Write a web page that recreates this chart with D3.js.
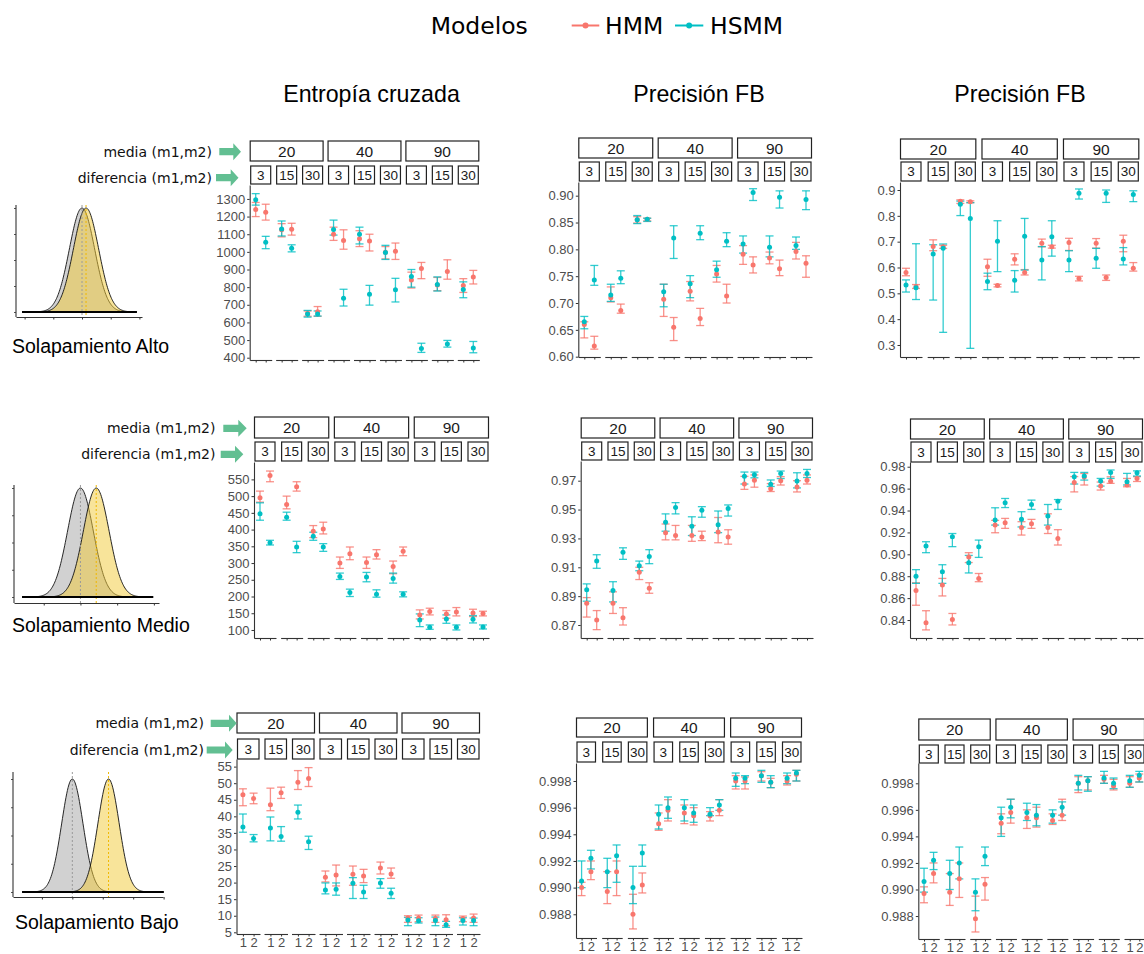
<!DOCTYPE html>
<html>
<head>
<meta charset="utf-8">
<script src="https://cdn.jsdelivr.net/npm/d3@7"></script>
<style>
  body { margin: 0; background: #fff; }
  svg { display: block; }
</style>
</head>
<body>
<script>
// ---- categories ----
const models = ["HMM", "HSMM"];
const medias = ["20", "40", "90"];
const diferencias = ["3", "15", "30"];
const xLevels = ["1", "2"];
const colTitles = ["Entropía cruzada", "Precisión FB", "Precisión FB"];
const rowTitles = ["Solapamiento Alto", "Solapamiento Medio", "Solapamiento Bajo"];

// ---- series: [mean, low, high] per facet (media x diferencia) and x = 1, 2 ----
const entAltoHMM = [[1240,1200,1280],[1225,1180,1270],[1125,1085,1160],[1128,1095,1162],[650,635,665],[660,635,690],
  [1100,1065,1140],[1065,1015,1125],[1075,1030,1120],[1062,1005,1100],[998,960,1030],[1004,957,1050],
  [840,795,885],[905,848,940],[812,780,855],[888,845,955],[810,770,848],[858,818,895]];
const entAltoHSMM = [[1295,1265,1330],[1055,1018,1088],[1130,1090,1175],[1020,1000,1040],[648,630,668],[648,636,665],
  [1127,1095,1180],[737,693,788],[1100,1045,1140],[760,698,810],[997,957,1037],[785,716,850],
  [860,800,900],[452,430,482],[815,778,858],[478,460,498],[787,740,830],[455,428,492]];

const fbAltoHMM = [[0.660,0.635,0.665],[0.620,0.614,0.638],[0.710,0.702,0.730],[0.686,0.681,0.698],[0.855,0.849,0.861],[0.856,0.853,0.858],
  [0.707,0.675,0.735],[0.655,0.630,0.673],[0.722,0.704,0.740],[0.671,0.658,0.690],[0.754,0.739,0.770],[0.713,0.700,0.735],
  [0.791,0.772,0.807],[0.771,0.756,0.786],[0.784,0.773,0.795],[0.764,0.751,0.780],[0.796,0.782,0.813],[0.774,0.748,0.788]];
const fbAltoHSMM = [[0.665,0.652,0.675],[0.743,0.733,0.770],[0.715,0.703,0.735],[0.746,0.736,0.760],[0.855,0.848,0.863],[0.856,0.852,0.858],
  [0.721,0.693,0.735],[0.821,0.783,0.844],[0.736,0.710,0.751],[0.830,0.818,0.844],[0.762,0.748,0.778],[0.815,0.805,0.831],
  [0.810,0.793,0.825],[0.906,0.891,0.913],[0.804,0.786,0.825],[0.897,0.877,0.909],[0.807,0.800,0.823],[0.893,0.874,0.909]];

const fb2AltoHMM = [[0.581,0.568,0.597],[0.526,0.519,0.534],[0.681,0.665,0.707],[0.680,0.674,0.686],[0.856,0.848,0.862],[0.855,0.851,0.858],
  [0.603,0.566,0.632],[0.530,0.525,0.535],[0.632,0.610,0.653],[0.581,0.571,0.592],[0.694,0.680,0.710],[0.680,0.675,0.686],
  [0.697,0.666,0.713],[0.557,0.548,0.566],[0.694,0.675,0.712],[0.561,0.550,0.571],[0.702,0.661,0.725],[0.597,0.586,0.619]];
const fb2AltoHSMM = [[0.532,0.505,0.552],[0.522,0.476,0.692],[0.652,0.474,0.688],[0.675,0.349,0.691],[0.845,0.801,0.857],[0.790,0.287,0.851],
  [0.546,0.514,0.578],[0.702,0.584,0.781],[0.551,0.505,0.588],[0.721,0.590,0.790],[0.629,0.552,0.681],[0.719,0.644,0.781],
  [0.629,0.584,0.665],[0.887,0.865,0.904],[0.636,0.597,0.674],[0.887,0.852,0.900],[0.633,0.610,0.677],[0.883,0.855,0.897]];

const entMedioHMM = [[495,482,515],[562,543,575],[475,462,500],[528,515,543],[395,376,412],[402,387,422],
  [300,284,318],[328,310,348],[302,284,318],[325,312,340],[290,268,306],[335,322,348],
  [145,133,160],[155,145,165],[148,135,158],[154,142,167],[151,140,162],[149,142,156]];
const entMedioHSMM = [[447,428,480],[361,354,368],[437,428,452],[348,331,365],[380,368,392],[348,335,358],
  [260,251,270],[212,200,222],[258,244,272],[207,198,220],[254,240,270],[207,199,214],
  [130,110,148],[108,102,115],[133,120,145],[108,100,115],[132,121,143],[109,103,115]];

const fbMedioHMM = [[0.8850,0.8755,0.8890],[0.8735,0.8668,0.8800],[0.8850,0.8780,0.8930],[0.8750,0.8700,0.8820],[0.9065,0.9015,0.9100],[0.8955,0.8920,0.8993],
  [0.9340,0.9290,0.9400],[0.9320,0.9290,0.9390],[0.9320,0.9280,0.9390],[0.9310,0.9285,0.9350],[0.9345,0.9270,0.9445],[0.9310,0.9260,0.9360],
  [0.9677,0.9640,0.9730],[0.9703,0.9655,0.9740],[0.9645,0.9625,0.9680],[0.9700,0.9670,0.9728],[0.9657,0.9622,0.9700],[0.9703,0.9677,0.9740]];
const fbMedioHSMM = [[0.8945,0.8865,0.8985],[0.9143,0.9093,0.9187],[0.8940,0.8860,0.9000],[0.9205,0.9155,0.9235],[0.9110,0.9076,0.9143],[0.9175,0.9125,0.9222],
  [0.9412,0.9350,0.9470],[0.9515,0.9470,0.9548],[0.9385,0.9320,0.9450],[0.9495,0.9447,0.9520],[0.9395,0.9340,0.9490],[0.9507,0.9455,0.9532],
  [0.9730,0.9677,0.9760],[0.9742,0.9720,0.9760],[0.9675,0.9660,0.9705],[0.9750,0.9715,0.9767],[0.9698,0.9650,0.9755],[0.9750,0.9722,0.9778]];

const fb2MedioHMM = [[0.8670,0.8535,0.8740],[0.8375,0.8310,0.8485],[0.8720,0.8620,0.8780],[0.8405,0.8355,0.8460],[0.8975,0.8925,0.9015],[0.8780,0.8750,0.8825],
  [0.9267,0.9197,0.9310],[0.9288,0.9237,0.9328],[0.9245,0.9176,0.9298],[0.9280,0.9237,0.9319],[0.9245,0.9190,0.9370],[0.9145,0.9085,0.9225],
  [0.9655,0.9570,0.9710],[0.9705,0.9633,0.9738],[0.9623,0.9587,0.9660],[0.9668,0.9648,0.9708],[0.9633,0.9617,0.9693],[0.9692,0.9665,0.9709]];
const fb2MedioHSMM = [[0.8800,0.8735,0.8860],[0.9075,0.9015,0.9115],[0.8840,0.8735,0.8905],[0.9160,0.9070,0.9190],[0.8922,0.8830,0.8990],[0.9070,0.8972,0.9130],
  [0.9313,0.9267,0.9425],[0.9470,0.9427,0.9510],[0.9320,0.9250,0.9389],[0.9455,0.9410,0.9495],[0.9350,0.9267,0.9455],[0.9485,0.9410,0.9500],
  [0.9708,0.9642,0.9748],[0.9715,0.9678,0.9748],[0.9670,0.9623,0.9693],[0.9748,0.9693,0.9770],[0.9662,0.9633,0.9739],[0.9745,0.9715,0.9762]];

const entBajoHMM = [[46.5,43.2,48.3],[45.4,43.8,47.0],[43.5,41.7,48.5],[47.1,45.4,48.8],[50.3,48.1,53.8],[51.4,49.0,54.7],
  [21.6,20.2,23.5],[22.3,19.0,25.3],[22.5,19.2,25.0],[22.0,20.0,24.0],[24.4,22.6,26.2],[22.6,21.3,24.4],
  [9.3,8.0,10.0],[9.3,8.2,10.2],[9.2,8.0,10.2],[8.8,7.0,10.3],[9.2,8.2,9.9],[9.3,8.0,10.5]];
const entBajoHSMM = [[36.8,35.2,40.7],[33.3,32.3,34.5],[36.5,32.6,39.8],[33.9,32.5,36.9],[41.2,39.2,43.4],[32.3,30.0,34.0],
  [17.8,16.6,19.9],[18.0,16.2,19.9],[19.8,15.2,21.5],[17.2,15.2,19.2],[19.9,18.3,21.2],[16.8,15.2,18.3],
  [8.7,7.0,9.5],[8.5,7.8,9.4],[8.6,7.0,9.6],[7.3,6.5,8.3],[8.6,7.2,9.4],[8.6,7.0,9.3]];

const fbBajoHMM = [[0.9900,0.9894,0.9904],[0.9912,0.9906,0.9920],[0.9897,0.9888,0.9912],[0.9912,0.9894,0.9920],[0.9880,0.9869,0.9895],[0.9902,0.9896,0.9911],
  [0.9948,0.9943,0.9956],[0.9958,0.9950,0.9966],[0.9956,0.9948,0.9962],[0.9954,0.9947,0.9960],[0.9954,0.9950,0.9957],[0.9958,0.9954,0.9966],
  [0.9980,0.9974,0.9984],[0.9980,0.9974,0.9983],[0.9984,0.9980,0.9987],[0.9979,0.9975,0.9982],[0.9980,0.9977,0.9984],[0.9985,0.9980,0.9988]];
const fbBajoHSMM = [[0.9905,0.9900,0.9920],[0.9922,0.9914,0.9928],[0.9912,0.9900,0.9922],[0.9924,0.9904,0.9932],[0.9900,0.9888,0.9916],[0.9926,0.9916,0.9932],
  [0.9955,0.9944,0.9962],[0.9960,0.9952,0.9968],[0.9960,0.9950,0.9966],[0.9956,0.9949,0.9962],[0.9955,0.9954,0.9960],[0.9962,0.9958,0.9966],
  [0.9982,0.9976,0.9986],[0.9982,0.9978,0.9984],[0.9984,0.9979,0.9988],[0.9979,0.9975,0.9984],[0.9982,0.9978,0.9986],[0.9986,0.9980,0.9988]];

const fb2BajoHMM = [[0.9897,0.9890,0.9902],[0.9912,0.9905,0.9920],[0.9898,0.9888,0.9912],[0.9908,0.9894,0.9920],[0.9878,0.9868,0.9895],[0.9904,0.9892,0.9909],
  [0.9950,0.9942,0.9957],[0.9958,0.9950,0.9968],[0.9954,0.9946,0.9960],[0.9954,0.9947,0.9962],[0.9952,0.9949,0.9957],[0.9956,0.9952,0.9968],
  [0.9980,0.9973,0.9985],[0.9982,0.9975,0.9985],[0.9983,0.9980,0.9986],[0.9978,0.9975,0.9983],[0.9980,0.9977,0.9985],[0.9984,0.9981,0.9987]];
const fb2BajoHSMM = [[0.9906,0.9898,0.9916],[0.9922,0.9915,0.9928],[0.9912,0.9900,0.9922],[0.9920,0.9908,0.9932],[0.9898,0.9884,0.9908],[0.9925,0.9918,0.9932],
  [0.9954,0.9940,0.9962],[0.9962,0.9954,0.9968],[0.9958,0.9952,0.9965],[0.9956,0.9948,0.9964],[0.9956,0.9950,0.9960],[0.9962,0.9956,0.9966],
  [0.9980,0.9975,0.9986],[0.9982,0.9974,0.9985],[0.9984,0.9980,0.9989],[0.9980,0.9976,0.9984],[0.9982,0.9977,0.9986],[0.9986,0.9981,0.9989]];

// ---- tick labels ----
const ticksEntAlto = [400, 500, 600, 700, 800, 900, 1000, 1100, 1200, 1300];
const ticksEntMedio = [100, 150, 200, 250, 300, 350, 400, 450, 500, 550];
const ticksEntBajo = [5, 10, 15, 20, 25, 30, 35, 40, 45, 50, 55];
const ticksFbAlto = [0.60, 0.65, 0.70, 0.75, 0.80, 0.85, 0.90];
const ticksFbMedio = [0.87, 0.89, 0.91, 0.93, 0.95, 0.97];
const ticksFb2Alto = [0.3, 0.4, 0.5, 0.6, 0.7, 0.8, 0.9];
const ticksFb2Medio = [0.84, 0.86, 0.88, 0.90, 0.92, 0.94, 0.96, 0.98];
const ticksFbBajo = [0.988, 0.990, 0.992, 0.994, 0.996, 0.998];

// ---- overlap sketches (normal curves): means of m1, m2, sd, axis ticks ----
const densMeans = [[0, 0.14], [0, 0.43], [0, 1.19]];
const densSd = [0.44, 0.35, 0.35];
const densSpan = [[-2.09, 1.91], [-1.59, 1.98], [-1.65, 3.0]];
const densTicks = [[-2, -1, 0, 1, 2], [-1, 0, 1, 2], [-1, 0, 1, 2, 3]];

// ---- layout ----
const W = 1144, H = 954;
const panels = [
  {row: 0, col: 0, L: 249.7, R: 479.3, fw: 22, mY: [141, 161], dY: [166, 184], top: 185, bottom: 360, domain: [387, 1379], data: [entAltoHMM, entAltoHSMM], ticks: ticksEntAlto, fmt: "d"},
  {row: 0, col: 1, L: 578.3, R: 812, fw: 22, mY: [138, 158], dY: [162, 181], top: 182, bottom: 357, domain: [0.5994, 0.9255], data: [fbAltoHMM, fbAltoHSMM], ticks: ticksFbAlto, fmt: ".2f"},
  {row: 0, col: 2, L: 900, R: 1139.3, fw: 22, mY: [139, 159], dY: [162, 181], top: 182, bottom: 357, domain: [0.2535, 0.931], data: [fb2AltoHMM, fb2AltoHSMM], ticks: ticksFb2Alto, fmt: ".1f"},
  {row: 1, col: 0, L: 254, R: 489, fw: 22, mY: [417, 438], dY: [442, 461], top: 462, bottom: 638, domain: [76, 602], data: [entMedioHMM, entMedioHSMM], ticks: ticksEntMedio, fmt: "d"},
  {row: 1, col: 1, L: 580.7, R: 813, fw: 22, mY: [418, 438], dY: [442, 460], top: 461, bottom: 638, domain: [0.861, 0.98365], data: [fbMedioHMM, fbMedioHSMM], ticks: ticksFbMedio, fmt: ".2f"},
  {row: 1, col: 2, L: 910, R: 1143, fw: 22, mY: [419, 439], dY: [442, 462], top: 462, bottom: 638, domain: [0.8236, 0.9843], data: [fb2MedioHMM, fb2MedioHSMM], ticks: ticksFb2Medio, fmt: ".2f"},
  {row: 2, col: 0, L: 236.5, R: 480, fw: 23.5, mY: [713, 733], dY: [739, 759], top: 759, bottom: 934, domain: [4.49, 57.3], data: [entBajoHMM, entBajoHSMM], ticks: ticksEntBajo, fmt: "d"},
  {row: 2, col: 1, L: 576, R: 802, fw: 20.5, mY: [718, 737], dY: [742, 762], top: 763, bottom: 938, domain: [0.98622, 0.99935], data: [fbBajoHMM, fbBajoHSMM], ticks: ticksFbBajo, fmt: ".3f"},
  {row: 2, col: 2, L: 918.3, R: 1145, fw: 21, mY: [719, 740], dY: [745, 763], top: 763, bottom: 939, domain: [0.98627, 0.99953], data: [fb2BajoHMM, fb2BajoHSMM], ticks: ticksFbBajo, fmt: ".3f"}
];
const titleX = [371.5, 699, 1020];
const densLayout = [
  {L: 16, R: 142, T: 205, B: 317, base: 312, peak: 208, domain: [-2.3, 2.09], titleX: 12, titleY: 352.5},
  {L: 14, R: 159, T: 485, B: 603, base: 597, peak: 488, domain: [-1.81, 2.14], titleX: 12, titleY: 631.5},
  {L: 13, R: 163, T: 772, B: 897, base: 892, peak: 779, domain: [-1.95, 2.98], titleX: 15, titleY: 929}
];
const arrowLayout = [
  {textX: 212, media: [219.3, 233.3, 241, 151.7], dif: [216, 230.7, 238.5, 177.7]},
  {textX: 215.5, media: [223.3, 238.3, 246.7, 428.3], dif: [220.7, 235, 243.3, 454.3]},
  {textX: 204, media: [210.7, 229, 236.7, 723.3], dif: [206.7, 225, 232.7, 750]}
];

const SANS = "'Liberation Sans', Arial, sans-serif";
const DEJAVU = "'DejaVu Sans', sans-serif";
const color = d3.scaleOrdinal().domain(models).range(["#F8766D", "#00BFC4"]);

const svg = d3.select("body").append("svg")
  .attr("width", W)
  .attr("height", H)
  .style("font-family", SANS);

// ---- legend ----
const legend = svg.append("g");
legend.append("text")
  .attr("x", 430.7).attr("y", 34)
  .style("font-family", DEJAVU).style("font-size", "23.5px")
  .text("Modelos");
const legendPos = [{x0: 571.7, x1: 599.3, tx: 605}, {x0: 675, x1: 703.3, tx: 710}];
models.forEach((m, i) => {
  const p = legendPos[i];
  legend.append("line")
    .attr("x1", p.x0).attr("x2", p.x1).attr("y1", 25.5).attr("y2", 25.5)
    .attr("stroke", color(m)).attr("stroke-width", 2);
  legend.append("circle")
    .attr("cx", (p.x0 + p.x1) / 2).attr("cy", 25.5).attr("r", 3)
    .attr("fill", color(m));
  legend.append("text")
    .attr("x", p.tx).attr("y", 34)
    .style("font-family", DEJAVU).style("font-size", "23.5px")
    .text(m);
});

// ---- column titles ----
svg.selectAll(".coltitle")
  .data(colTitles)
  .enter()
  .append("text")
    .attr("class", "coltitle")
    .attr("x", (d, i) => titleX[i])
    .attr("y", 102)
    .attr("text-anchor", "middle")
    .style("font-size", "23.2px")
    .text(d => d);

// ---- facet panels ----
const facetIds = d3.cross(medias, diferencias).map(d => d.join("/"));

function drawPanel(p) {
  const g = svg.append("g");
  const pitch = (p.R - p.L - p.fw) / 8;
  const fx = d3.scaleBand()
    .domain(facetIds)
    .range([p.L, p.R])
    .paddingInner(1 - p.fw / pitch)
    .paddingOuter(0);
  const y = d3.scaleLinear().domain(p.domain).range([p.bottom, p.top]);

  // strips: media
  medias.forEach((m, gi) => {
    const x0 = fx(facetIds[gi * 3]) + 0.5;
    const x1 = fx(facetIds[gi * 3 + 2]) + p.fw - 0.5;
    g.append("rect")
      .attr("x", x0).attr("y", p.mY[0])
      .attr("width", x1 - x0).attr("height", p.mY[1] - p.mY[0])
      .attr("fill", "#fff").attr("stroke", "#222").attr("stroke-width", 1.2);
    g.append("text")
      .attr("x", (x0 + x1) / 2).attr("y", (p.mY[0] + p.mY[1]) / 2 + 5.5)
      .attr("text-anchor", "middle")
      .style("font-size", "15.5px").attr("fill", "#1a1a1a")
      .text(m);
  });

  // strips: diferencia + axes + marks per facet
  facetIds.forEach((fid, fi) => {
    const left = fx(fid);
    const dif = diferencias[fi % 3];
    g.append("rect")
      .attr("x", left + 1).attr("y", p.dY[0])
      .attr("width", p.fw - 2).attr("height", p.dY[1] - p.dY[0])
      .attr("fill", "#fff").attr("stroke", "#222").attr("stroke-width", 1.2);
    g.append("text")
      .attr("x", left + p.fw / 2).attr("y", (p.dY[0] + p.dY[1]) / 2 + 4.8)
      .attr("text-anchor", "middle")
      .style("font-size", "13.5px").attr("fill", "#1a1a1a")
      .text(dif);

    const xs = d3.scalePoint().domain(xLevels).range([left, left + p.fw]).padding(0.6);

    const xAxis = d3.axisBottom(xs).tickSize(2.5).tickSizeOuter(0);
    if (p.row < 2) xAxis.tickFormat("");
    const ax = g.append("g")
      .attr("transform", `translate(0,${p.bottom})`)
      .call(xAxis);
    ax.select(".domain").attr("stroke", "#333").attr("stroke-width", 1.1);
    ax.selectAll(".tick line").attr("stroke", "#333");
    ax.selectAll(".tick text")
      .attr("fill", "#4d4d4d").attr("dy", "0.6em")
      .style("font-family", SANS).style("font-size", "13px");

    const recs = [];
    models.forEach((m, mi) => {
      xLevels.forEach((lev, li) => {
        const v = p.data[mi][fi * 2 + li];
        recs.push({model: m, x: xs(lev), mean: v[0], lo: v[1], hi: v[2]});
      });
    });

    const bars = g.append("g")
      .selectAll("g")
      .data(recs)
      .enter()
      .append("g")
        .attr("stroke", d => color(d.model))
        .attr("stroke-width", 1.3)
        .attr("stroke-opacity", 0.8);
    bars.append("line")
      .attr("x1", d => d.x).attr("x2", d => d.x)
      .attr("y1", d => y(d.lo)).attr("y2", d => y(d.hi));
    bars.append("line")
      .attr("x1", d => d.x - 4).attr("x2", d => d.x + 4)
      .attr("y1", d => y(d.lo)).attr("y2", d => y(d.lo));
    bars.append("line")
      .attr("x1", d => d.x - 4).attr("x2", d => d.x + 4)
      .attr("y1", d => y(d.hi)).attr("y2", d => y(d.hi));

    g.append("g")
      .selectAll("circle")
      .data(recs)
      .enter()
      .append("circle")
        .attr("cx", d => d.x)
        .attr("cy", d => y(d.mean))
        .attr("r", 2.5)
        .attr("fill", d => color(d.model));
  });

  // y axis
  const yAxis = d3.axisLeft(y)
    .tickValues(p.ticks)
    .tickFormat(d3.format(p.fmt))
    .tickSize(2.5)
    .tickSizeOuter(0);
  const ay = g.append("g")
    .attr("transform", `translate(${p.L},0)`)
    .call(yAxis);
  ay.select(".domain").attr("stroke", "#333").attr("stroke-width", 1.1);
  ay.selectAll(".tick line").attr("stroke", "#333");
  ay.selectAll(".tick text")
    .attr("fill", "#4d4d4d").attr("x", -4.5)
    .style("font-family", SANS).style("font-size", "13px");
}

panels.forEach(drawPanel);

// ---- overlap sketches ----
function drawDensity(r) {
  const lay = densLayout[r];
  const g = svg.append("g");
  const x = d3.scaleLinear().domain(lay.domain).range([lay.L, lay.R]);
  const y = d3.scaleLinear().domain([0, 1]).range([lay.base, lay.peak]);
  const sd = densSd[r];
  const span = densSpan[r];
  const xsamp = d3.range(span[0], span[1] + 1e-9, (span[1] - span[0]) / 200);
  const fills = [{fill: "#b3b3b3", op: 0.6, dash: "#9a9a9a"}, {fill: "#f1c935", op: 0.5, dash: "#f0b800"}];

  densMeans[r].forEach((mu, k) => {
    const pts = xsamp.map(v => [v, Math.exp(-0.5 * Math.pow((v - mu) / sd, 2))]);
    g.append("path")
      .datum(pts)
      .attr("d", d3.area().x(d => x(d[0])).y0(y(0)).y1(d => y(d[1])))
      .attr("fill", fills[k].fill)
      .attr("fill-opacity", fills[k].op)
      .attr("stroke", "#111")
      .attr("stroke-width", 0.9);
  });
  densMeans[r].forEach((mu, k) => {
    g.append("line")
      .attr("x1", x(mu)).attr("x2", x(mu))
      .attr("y1", lay.T).attr("y2", lay.B)
      .attr("stroke", fills[k].dash)
      .attr("stroke-width", 1)
      .attr("stroke-dasharray", "2,2");
  });
  g.append("line")
    .attr("x1", x(span[0])).attr("x2", x(span[1]))
    .attr("y1", y(0)).attr("y2", y(0))
    .attr("stroke", "#000").attr("stroke-width", 2.2);

  const ax = g.append("g")
    .attr("transform", `translate(0,${lay.B})`)
    .call(d3.axisBottom(x).tickValues(densTicks[r]).tickFormat("").tickSize(2.5).tickSizeOuter(0));
  ax.select(".domain").attr("stroke", "#333").attr("stroke-width", 1.1);
  ax.selectAll(".tick line").attr("stroke", "#333");
  const yAx = d3.scaleLinear().domain([0, 1]).range([lay.base, lay.peak]);
  const ay = g.append("g")
    .attr("transform", `translate(${lay.L},0)`)
    .call(d3.axisLeft(yAx).tickValues([0, 0.25, 0.5, 0.75, 1]).tickFormat("").tickSize(2).tickSizeOuter(0));
  ay.select(".domain").attr("stroke", null);
  ay.selectAll(".tick line").attr("stroke", "#555");
  g.append("line")
    .attr("x1", lay.L).attr("x2", lay.L)
    .attr("y1", lay.T).attr("y2", lay.B)
    .attr("stroke", "#333").attr("stroke-width", 1.1);

  g.append("text")
    .attr("x", lay.titleX).attr("y", lay.titleY)
    .style("font-size", "19.5px")
    .text(rowTitles[r]);
}
rowTitles.forEach((t, r) => drawDensity(r));

// ---- strip guide labels with arrows ----
function arrowPath(a) {
  const [x0, xh, x1, yc] = a;
  return `M${x0},${yc - 3.6} L${xh},${yc - 3.6} L${xh},${yc - 8.5} L${x1},${yc} L${xh},${yc + 8.5} L${xh},${yc + 3.6} L${x0},${yc + 3.6} Z`;
}
arrowLayout.forEach(a => {
  [["media (m1,m2)", a.media], ["diferencia (m1,m2)", a.dif]].forEach(([label, geo]) => {
    svg.append("path").attr("d", arrowPath(geo)).attr("fill", "#62bf92");
    svg.append("text")
      .attr("x", a.textX).attr("y", geo[3] + 5)
      .attr("text-anchor", "end")
      .style("font-family", DEJAVU).style("font-size", "14px")
      .attr("fill", "#111")
      .text(label);
  });
});
</script>
</body>
</html>
